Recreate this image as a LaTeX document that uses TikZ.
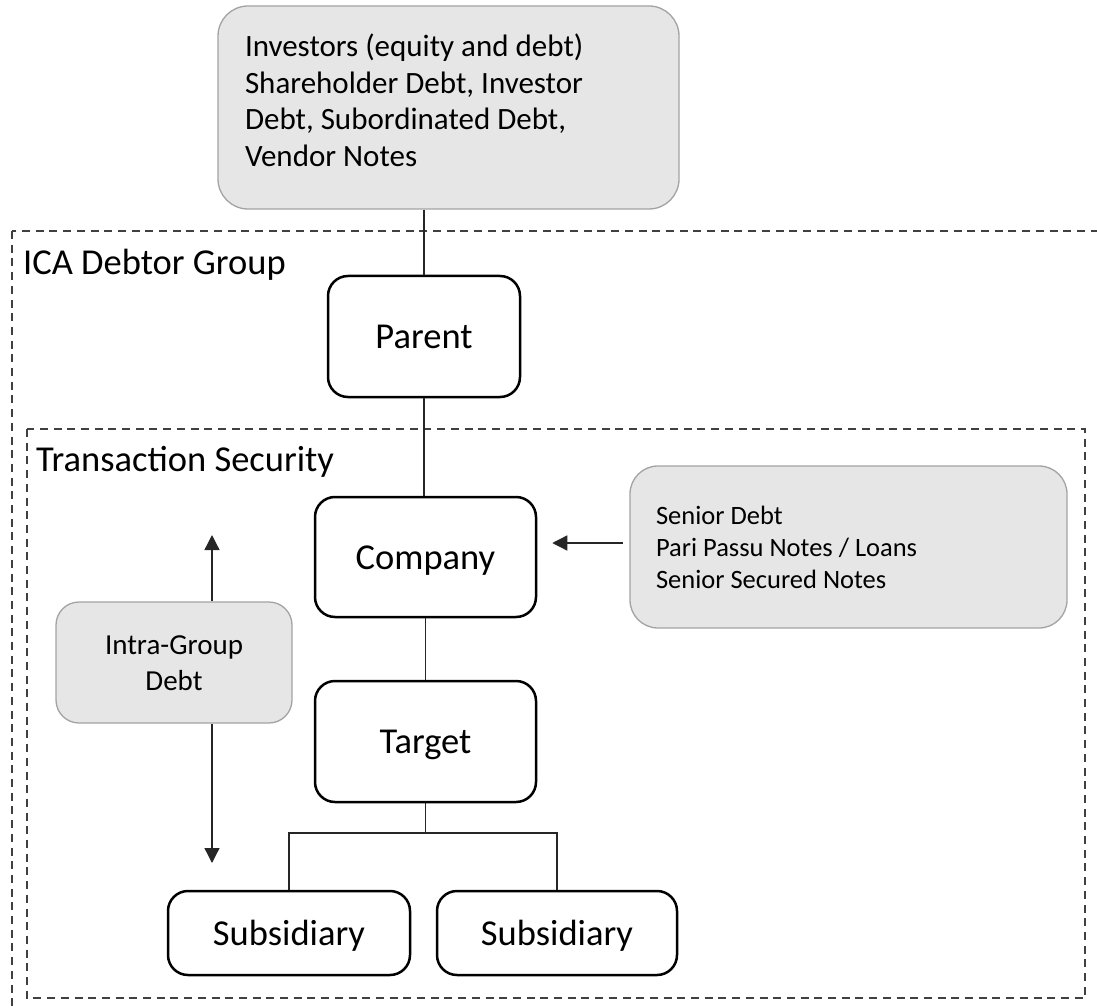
\documentclass[tikz,border=0pt]{standalone}
\usepackage{fontspec}
\setmainfont{Carlito}
\usetikzlibrary{arrows.meta}
\definecolor{boxgray}{HTML}{E6E6E6}
\definecolor{edgegray}{HTML}{A3A3A3}
\definecolor{dashgray}{HTML}{404040}
\begin{document}
\begin{tikzpicture}[x=1pt,y=-1pt,
  entity/.style={draw=black, line width=2.5pt, rounded corners=20pt, fill=white,
    font=\fontsize{36.5}{40}\selectfont, text height=24pt, text depth=0pt, inner sep=0pt},
  note/.style={draw=edgegray, line width=1.3pt, fill=boxgray, inner sep=0pt, text height=0pt,
    execute at begin node={\spaceskip=0pt\xspaceskip=0pt}},
  link/.style={line width=1.3pt, draw=black!85},
  arr/.style={link, -{Triangle[length=15pt,width=15pt]}},
  region/.style={draw=dashgray, line width=1.7pt, dash pattern=on 8pt off 5.7pt},
  grouplabel/.style={anchor=base west, inner sep=0pt, font=\fontsize{36.5}{40}\selectfont}]
\useasboundingbox (0,0) rectangle (1097,1008);
\clip (0,0) rectangle (1097,1008);

% dashed group frames
\draw[region] (12,231) rectangle (1130,1040);
\draw[region] (27,429) rectangle (1085,998);
\node[grouplabel] (icalabel) at (23,275) {ICA Debtor Group};
\node[grouplabel] (tslabel) at (36,471) {Transaction Security};

% creditor boxes
\node[note, rounded corners=30pt, minimum width=461pt, minimum height=203pt,
      text width=407pt, text depth=101pt,
      font=\fontsize{31}{36.5}\selectfont] (inv) at (448.5,107.5)
  {Investors (equity and debt)\\Shareholder Debt, Investor\\Debt, Subordinated Debt,\\Vendor Notes};
\node[note, rounded corners=28pt, minimum width=437pt, minimum height=162pt,
      text width=385pt, text depth=46pt,
      font=\fontsize{26.5}{32}\selectfont] (senior) at (848.5,547)
  {Senior Debt\\Pari Passu Notes / Loans\\Senior Secured Notes};
\node[note, rounded corners=23pt, minimum width=236pt, minimum height=121pt,
      text width=200pt, align=center, text depth=17pt,
      font=\fontsize{29}{36}\selectfont] (intra) at (174,662.5)
  {Intra-Group\\Debt};

% group entities
\node[entity, minimum width=192pt, minimum height=121pt] (parent) at (424,336.5) {Parent};
\node[entity, minimum width=221pt, minimum height=120pt] (company) at (425.5,557) {Company};
\node[entity, minimum width=221pt, minimum height=121pt] (target) at (425.5,741.5) {Target};
\node[entity, minimum width=242pt, minimum height=84pt] (sub1) at (289,933) {Subsidiary};
\node[entity, minimum width=240pt, minimum height=84pt] (sub2) at (557,933) {Subsidiary};

% ownership lines
\draw[link] (parent.north |- inv.south) -- (parent.north);
\draw[link] (parent.south) -- (parent.south |- company.north);
\draw[link] (company.south) -- (target.north);
\coordinate (fork) at (425.5,833);
\draw[link] (target.south) -- (target.south |- fork);
\draw[link] (sub1.north) -- (sub1.north |- fork) -- (sub2.north |- fork) -- (sub2.north);

% debt arrows
\draw[arr, shorten <=6.5pt, shorten >=15pt] ([yshift=4pt]senior.west) -- ([yshift=14pt]company.east);
\coordinate (upEnd) at (212,535);
\coordinate (downEnd) at (212,863);
\draw[arr] ([xshift=38pt]intra.north) -- (upEnd);
\draw[arr] ([xshift=38pt]intra.south) -- (downEnd);
\end{tikzpicture}
\end{document}
